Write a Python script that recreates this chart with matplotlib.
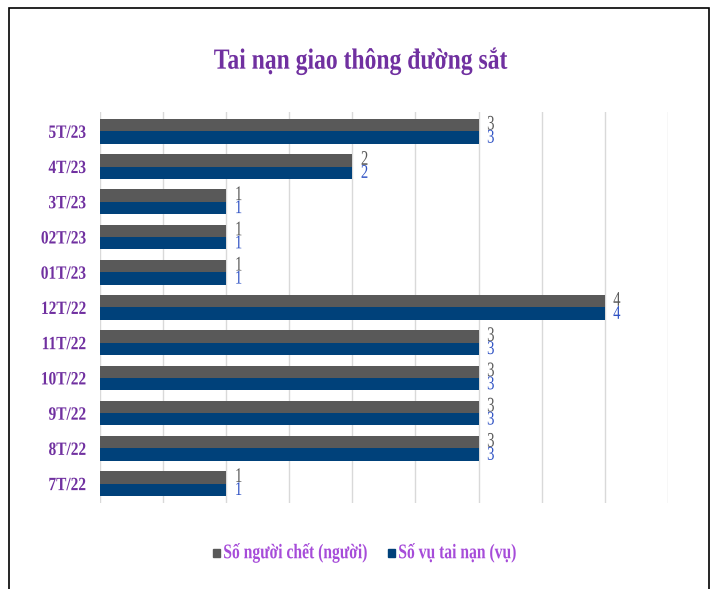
import matplotlib.pyplot as plt
import numpy as np
from matplotlib.patches import Rectangle
from matplotlib.patheffects import AbstractPathEffect
from matplotlib.transforms import Affine2D

plt.rcParams['font.family'] = ['Liberation Serif', 'DejaVu Serif']
plt.rcParams['font.weight'] = 'bold'

# data (bottom to top)
months = ['7T/22', '8T/22', '9T/22', '10T/22', '11T/22', '12T/22',
          '01T/23', '02T/23', '3T/23', '4T/23', '5T/23']
deaths = [1, 3, 3, 3, 3, 4, 1, 1, 1, 2, 3]
accidents = [1, 3, 3, 3, 3, 4, 1, 1, 1, 2, 3]
series_names = ['Số người chết (người)', 'Số vụ tai nạn (vụ)']

c_death = '#595959'
c_acc = '#00417A'
purple = '#7030A0'


class Condense(AbstractPathEffect):
    """Squeeze text horizontally around its left/center/right edge."""
    def __init__(self, sx, anchor='center'):
        super().__init__()
        self.sx = sx
        self.anchor = anchor

    def draw_path(self, renderer, gc, tpath, affine, rgbFace=None):
        bb = tpath.get_extents(affine)
        ax_ = {'left': bb.x0, 'right': bb.x1}.get(self.anchor, 0.5 * (bb.x0 + bb.x1))
        tr = affine + Affine2D().translate(-ax_, 0).scale(self.sx, 1).translate(ax_, 0)
        renderer.draw_path(gc, tpath, tr, rgbFace)


fig = plt.figure(figsize=(7.12, 5.89), dpi=100)
ax = fig.add_axes([0.1404, 0.146, 0.938 - 0.1404, 0.81 - 0.146])

y = np.arange(len(months))
h = 0.35
ax.barh(y + h/2, deaths, height=h, color=c_death, zorder=3)
ax.barh(y - h/2, accidents, height=h, color=c_acc, zorder=3)

for yi, d, a in zip(y, deaths, accidents):
    t1 = ax.annotate(str(d), (d, yi + h/2), xytext=(6, 0), textcoords='offset points',
                     va='center', ha='left', fontsize=15, color=c_death,
                     fontweight='normal')
    t2 = ax.annotate(str(a), (a, yi - h/2), xytext=(6, -0.5), textcoords='offset points',
                     va='center', ha='left', fontsize=14, color='#2F52C4',
                     fontweight='normal')
    t1.set_path_effects([Condense(0.7, 'left')])
    t2.set_path_effects([Condense(0.75, 'left')])

ax.set_xlim(0, 4.5)
ax.set_ylim(-0.55, 10.55)
ax.set_xticks(np.arange(0, 4.51, 0.5))
ax.set_xticklabels([])
ax.set_yticks(y)
ax.set_yticklabels(months, color=purple, fontsize=13.5, fontweight='bold')
for lab in ax.get_yticklabels():
    lab.set_path_effects([Condense(0.82, 'right')])
ax.tick_params(length=0, pad=10)
ax.grid(axis='x', color='#D9D9D9', linewidth=1, zorder=0)
for s in ax.spines.values():
    s.set_visible(False)

title = fig.text(0.506, 0.897, 'Tai nạn giao thông đường sắt', ha='center', va='center',
                 fontsize=21, color=purple, fontweight='bold')
title.set_path_effects([Condense(0.81, 'center')])

# legend drawn by hand so that the squeezed text keeps tight spacing
leg_y = 1 - 553 / 589
for x0, col, name in zip([213, 388], [c_death, c_acc], series_names):
    fig.patches.append(Rectangle((x0 / 712, leg_y - 4 / 589), 7 / 712, 8 / 589,
                                 transform=fig.transFigure, color=col))
    lt = fig.text((x0 + 10) / 712, leg_y, name, ha='left', va='center',
                  fontsize=15, color='#A64CD9', fontweight='bold')
    lt.set_path_effects([Condense(0.75, 'left')])

fig.patches.append(Rectangle((9/712, -0.1), 700/712, 1.1 - 8/589, transform=fig.transFigure,
                             fill=False, edgecolor='black', linewidth=1.2))

fig.savefig('out.png', dpi=100)
